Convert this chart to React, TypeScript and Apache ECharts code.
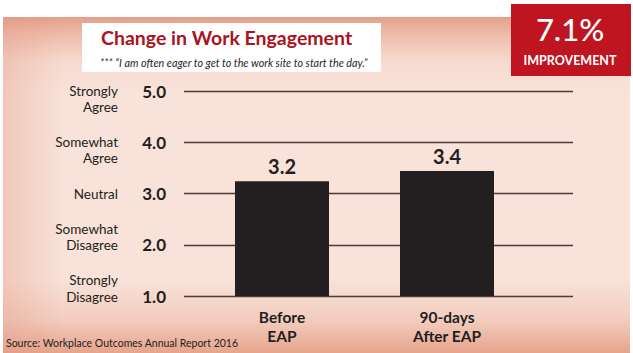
import React, { useEffect, useRef } from "react";
import * as echarts from "echarts";

// ---- data ----
const categories = ["Before\nEAP", "90-days\nAfter EAP"];
const values = [3.24, 3.44]; // bar heights as drawn
const valueLabels = ["3.2", "3.4"];
const yTicks = [1, 2, 3, 4, 5];
const yDescriptors = [
  "Strongly\nDisagree",
  "Somewhat\nDisagree",
  "Neutral",
  "Somewhat\nAgree",
  "Strongly\nAgree",
];
const titleText = "Change in Work Engagement";
const subtitleText = "*** \u201cI am often eager to get to the work site to start the day.\u201d";
const badgeValue = "7.1%";
const badgeLabel = "IMPROVEMENT";
const sourceText = "Source: Workplace Outcomes Annual Report 2016";

const FONT = "Lato, 'Open Sans', sans-serif";
const INK = "#231f20";

export default function App() {
  const ref = useRef<HTMLDivElement>(null);
  useEffect(() => {
    if (!ref.current) return;
    const chart = echarts.init(ref.current, null, { renderer: "svg" });

    // descriptor lines: the line on the tick keeps its height, the other line
    // overflows a 1px line box so neighbouring labels don't collide
    const descFormatter = (v: number) => {
      const idx = yTicks.indexOf(Math.round(v));
      if (idx < 0) return "";
      const lines = yDescriptors[idx].split("\n");
      if (lines.length === 1) return `{a|${lines[0]}}`;
      if (v >= 4) return `{a|${lines[0]}}\n{below|${lines[1]}}`;
      return `{above|${lines[0]}}\n{a|${lines[1]}}`;
    };
    const valFormatter = (v: number) => v.toFixed(1);

    const gridTop = 91;
    const gridBottom = 57;
    const descStyle = {
      color: INK,
      fontFamily: FONT,
      fontSize: 13.5,
      align: "right",
    };

    chart.setOption({
      animation: false,
      backgroundColor: "#ffffff",
      graphic: [
        {
          type: "rect",
          z: -10,
          shape: { x: 3, y: 17, width: 627, height: 336 },
          style: {
            fill: new echarts.graphic.LinearGradient(0, 0, 0, 1, [
              { offset: 0, color: "#e3a08b" },
              { offset: 0.05, color: "#eebba9" },
              { offset: 0.13, color: "#f6dacf" },
              { offset: 0.22, color: "#f8e2d9" },
              { offset: 0.78, color: "#f8e2d9" },
              { offset: 0.9, color: "#f3cdbf" },
              { offset: 1, color: "#e6a48d" },
            ]),
          },
          silent: true,
        },
        {
          type: "rect",
          z: -9,
          shape: { x: 3, y: 17, width: 60, height: 336 },
          style: {
            fill: new echarts.graphic.LinearGradient(0, 0, 1, 0, [
              { offset: 0, color: "rgba(225,150,128,0.35)" },
              { offset: 1, color: "rgba(225,150,128,0)" },
            ]),
          },
          silent: true,
        },
        {
          type: "rect",
          z: -8,
          shape: { x: 82, y: 23, width: 299, height: 49 },
          style: { fill: "#ffffff" },
          silent: true,
        },
        {
          type: "text",
          x: 101,
          y: 37,
          style: {
            text: titleText,
            fill: "#aa1420",
            font: `bold 19.5px ${FONT}`,
            textVerticalAlign: "middle",
          },
        },
        {
          type: "text",
          x: 100,
          y: 62,
          style: {
            text: subtitleText,
            fill: INK,
            font: `italic 10.8px ${FONT}`,
            textVerticalAlign: "middle",
          },
        },
        {
          type: "rect",
          shape: { x: 511, y: 4, width: 120, height: 72 },
          style: { fill: "#bf1520" },
        },
        {
          type: "text",
          x: 570,
          y: 29,
          style: {
            text: badgeValue,
            fill: "#ffffff",
            font: `500 31px ${FONT}`,
            textAlign: "center",
            textVerticalAlign: "middle",
          },
        },
        {
          type: "text",
          x: 570,
          y: 60,
          style: {
            text: badgeLabel,
            fill: "#ffffff",
            font: `bold 12.5px ${FONT}`,
            textAlign: "center",
            textVerticalAlign: "middle",
          },
        },
        {
          type: "text",
          x: 6,
          y: 343,
          style: {
            text: sourceText,
            fill: INK,
            font: `10.5px ${FONT}`,
            textVerticalAlign: "middle",
          },
        },
      ],
      grid: [
        { left: 184, right: 60, top: gridTop, bottom: gridBottom },
        { left: 199.5, right: 103.5, top: gridTop, bottom: gridBottom },
      ],
      xAxis: [
        { gridIndex: 0, type: "value", show: false, min: 0, max: 1 },
        {
          gridIndex: 1,
          type: "category",
          data: categories,
          axisLine: { show: false },
          axisTick: { show: false },
          axisLabel: {
            margin: 12,
            color: INK,
            fontFamily: FONT,
            fontWeight: "bold",
            fontSize: 15.5,
            lineHeight: 18.6,
          },
        },
      ],
      yAxis: [
        {
          gridIndex: 0,
          type: "value",
          min: 1,
          max: 5,
          interval: 1,
          axisLine: { show: false },
          axisTick: { show: false },
          splitLine: { lineStyle: { color: "#4a3b38", width: 1.3 } },
          axisLabel: {
            margin: 18,
            showMinLabel: true,
            showMaxLabel: true,
            formatter: valFormatter,
            color: INK,
            fontFamily: FONT,
            fontWeight: "bold",
            fontSize: 17,
          },
        },
        {
          gridIndex: 0,
          type: "value",
          position: "left",
          min: 1,
          max: 5,
          interval: 1,
          axisLine: { show: false },
          axisTick: { show: false },
          splitLine: { show: false },
          axisLabel: {
            margin: 66,
            align: "right",
            showMinLabel: true,
            showMaxLabel: true,
            formatter: descFormatter,
            rich: {
              a: { ...descStyle, lineHeight: 16 },
              above: {
                ...descStyle,
                lineHeight: 1,
                height: 17,
                verticalAlign: "bottom",
              },
              below: {
                ...descStyle,
                lineHeight: 1,
                height: 17,
                verticalAlign: "top",
              },
            },
          },
        },
        {
          gridIndex: 1,
          type: "value",
          min: 1,
          max: 5,
          interval: 1,
          startValue: 1,
          show: false,
        },
      ],
      series: [
        {
          type: "bar",
          xAxisIndex: 1,
          yAxisIndex: 2,
          data: values,
          barWidth: 94,
          clip: true,
          itemStyle: { color: INK },
          label: {
            show: true,
            position: "top",
            distance: 5,
            formatter: (p: any) => valueLabels[p.dataIndex],
            color: INK,
            fontFamily: FONT,
            fontWeight: "bold",
            fontSize: 20,
          },
        },
      ],
    });
    return () => chart.dispose();
  }, []);
  return (
    <div
      ref={ref}
      style={{ position: "fixed", left: 0, top: 0, width: 633, height: 353 }}
    />
  );
}
